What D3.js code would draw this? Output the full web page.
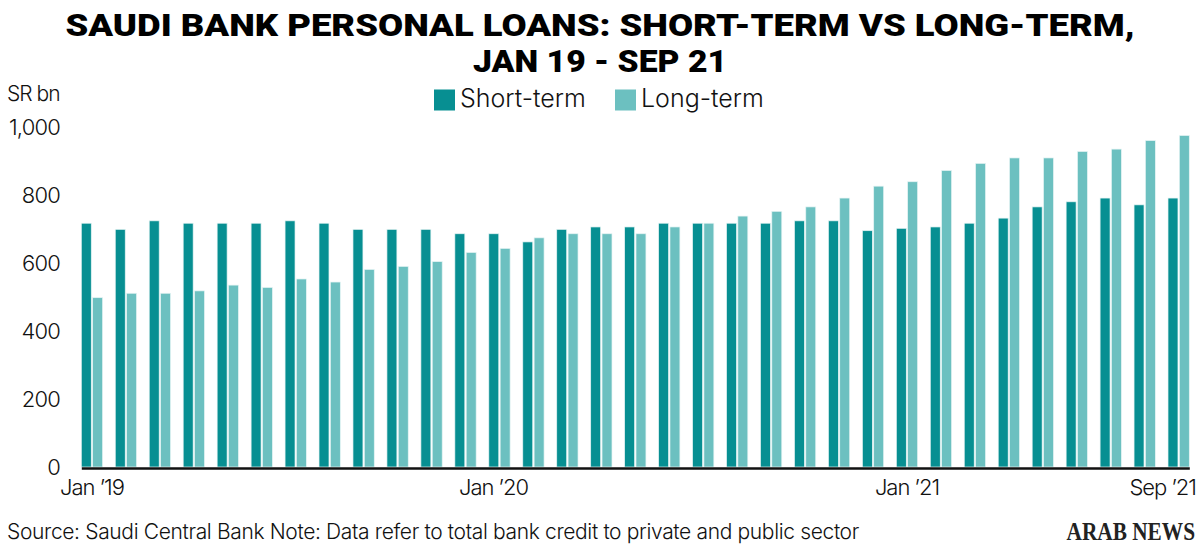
<!DOCTYPE html>
<html>
<head>
<meta charset="utf-8">
<script src="https://cdn.jsdelivr.net/npm/d3@7"></script>
<style>
  body { margin: 0; background: #fff; }
  svg { display: block; }
  .lbl { font-family: Inter, "Noto Sans", sans-serif; font-weight: 300; fill: #111; }
</style>
</head>
<body>
<div id="chart"></div>
<script>
const months = ["Jan 19","Feb 19","Mar 19","Apr 19","May 19","Jun 19","Jul 19","Aug 19","Sep 19","Oct 19","Nov 19","Dec 19",
                "Jan 20","Feb 20","Mar 20","Apr 20","May 20","Jun 20","Jul 20","Aug 20","Sep 20","Oct 20","Nov 20","Dec 20",
                "Jan 21","Feb 21","Mar 21","Apr 21","May 21","Jun 21","Jul 21","Aug 21","Sep 21"];
const shortTerm = [717,699,724,717,717,717,724,717,699,699,699,686,686,662,699,706,
                   706,717,717,717,717,724,724,695,702,706,717,732,765,780,791,771,791];
const longTerm = [498,511,511,518,535,528,553,544,581,590,604,631,643,674,686,686,
                  686,706,717,738,752,765,791,826,839,872,893,909,909,928,935,960,975];
const series = ["Short-term", "Long-term"];
const colors = ["#078f92", "#6cc0c0"];
const yTicks = [0, 200, 400, 600, 800, 1000];
const xTickLabels = {"Jan 19": "Jan \u201919", "Jan 20": "Jan \u201920", "Jan 21": "Jan \u201921", "Sep 21": "Sep \u201921"};

const width = 1200, height = 550;
const svg = d3.select("#chart").append("svg")
    .attr("width", width)
    .attr("height", height);

const x = d3.scaleBand().domain(months).range([81.3, 1189.3]).paddingInner(0.373).paddingOuter(0);
const xInner = d3.scaleBand().domain(series).range([0, x.bandwidth()]).paddingInner(0.12);
const y = d3.scaleLinear().domain([0, 1000]).range([467, 127]);

// title
svg.append("text")
    .attr("x", 600).attr("y", 36)
    .attr("text-anchor", "middle")
    .attr("textLength", 1069).attr("lengthAdjust", "spacingAndGlyphs")
    .style("font-family", "Roboto, sans-serif").style("font-weight", 900).style("font-size", "31px")
    .text("SAUDI BANK PERSONAL LOANS: SHORT-TERM VS LONG-TERM,");
svg.append("text")
    .attr("x", 600).attr("y", 72)
    .attr("text-anchor", "middle")
    .attr("textLength", 254).attr("lengthAdjust", "spacingAndGlyphs")
    .style("font-family", "Roboto, sans-serif").style("font-weight", 900).style("font-size", "31px")
    .text("JAN 19 - SEP 21");

// legend
const legendX = [434, 615];
series.forEach((s, i) => {
    svg.append("rect")
        .attr("x", legendX[i]).attr("y", 89.5)
        .attr("width", 21).attr("height", 21)
        .attr("fill", colors[i]);
    svg.append("text").attr("class", "lbl")
        .attr("x", legendX[i] + 26).attr("y", 107)
        .style("font-size", "25px")
        .text(s);
});

svg.append("text").attr("class", "lbl")
    .attr("x", 7).attr("y", 101)
    .style("font-size", "21px").style("letter-spacing", "-1px")
    .text("SR bn");

// y axis labels
const yAxis = svg.append("g")
    .attr("transform", "translate(60,0)")
    .call(d3.axisLeft(y).tickValues(yTicks).tickSize(0).tickPadding(0).tickFormat(d3.format(",")));
yAxis.select(".domain").remove();
yAxis.selectAll("text")
    .attr("class", "lbl")
    .style("font-size", "22px").style("letter-spacing", "-0.8px");

// bars
const groups = svg.append("g").selectAll("g")
    .data(months)
    .join("g")
    .attr("transform", d => `translate(${x(d)},0)`);

groups.selectAll("rect")
    .data((d, i) => [
        {key: series[0], value: shortTerm[i], color: colors[0]},
        {key: series[1], value: longTerm[i], color: colors[1]}
    ])
    .join("rect")
    .attr("x", d => xInner(d.key))
    .attr("width", xInner.bandwidth())
    .attr("y", d => y(d.value))
    .attr("height", d => y(0) - y(d.value))
    .attr("fill", d => d.color)
    .attr("stroke", "#e6f4f4")
    .attr("stroke-width", 0.7);

// x axis
const xAxis = svg.append("g")
    .attr("transform", `translate(0,${y(0) + 1})`)
    .call(d3.axisBottom(x).tickValues(Object.keys(xTickLabels)).tickSize(0).tickSizeOuter(0).tickPadding(11)
        .tickFormat(d => xTickLabels[d]));
xAxis.select(".domain").attr("stroke", "#111").attr("stroke-width", 2.5);
xAxis.selectAll("text")
    .attr("class", "lbl")
    .style("font-size", "22px").style("letter-spacing", "-1px");
xAxis.selectAll(".tick").filter(d => d === "Jan 20").select("text").attr("dx", -6);
xAxis.selectAll(".tick").filter(d => d === "Sep 21").select("text")
    .attr("text-anchor", "end")
    .attr("x", 1196 - x("Sep 21") - x.bandwidth() / 2);

// footer
svg.append("text").attr("class", "lbl")
    .attr("x", 7).attr("y", 539)
    .style("font-size", "21px").style("letter-spacing", "-0.35px")
    .text("Source: Saudi Central Bank Note: Data refer to total bank credit to private and public sector");

svg.append("text")
    .attr("transform", "translate(1195,540) scale(0.82,1)")
    .attr("text-anchor", "end")
    .style("font-family", "\"Liberation Serif\", serif").style("font-weight", 700).style("font-size", "26px")
    .style("fill", "#222")
    .text("ARAB NEWS");
</script>
</body>
</html>
